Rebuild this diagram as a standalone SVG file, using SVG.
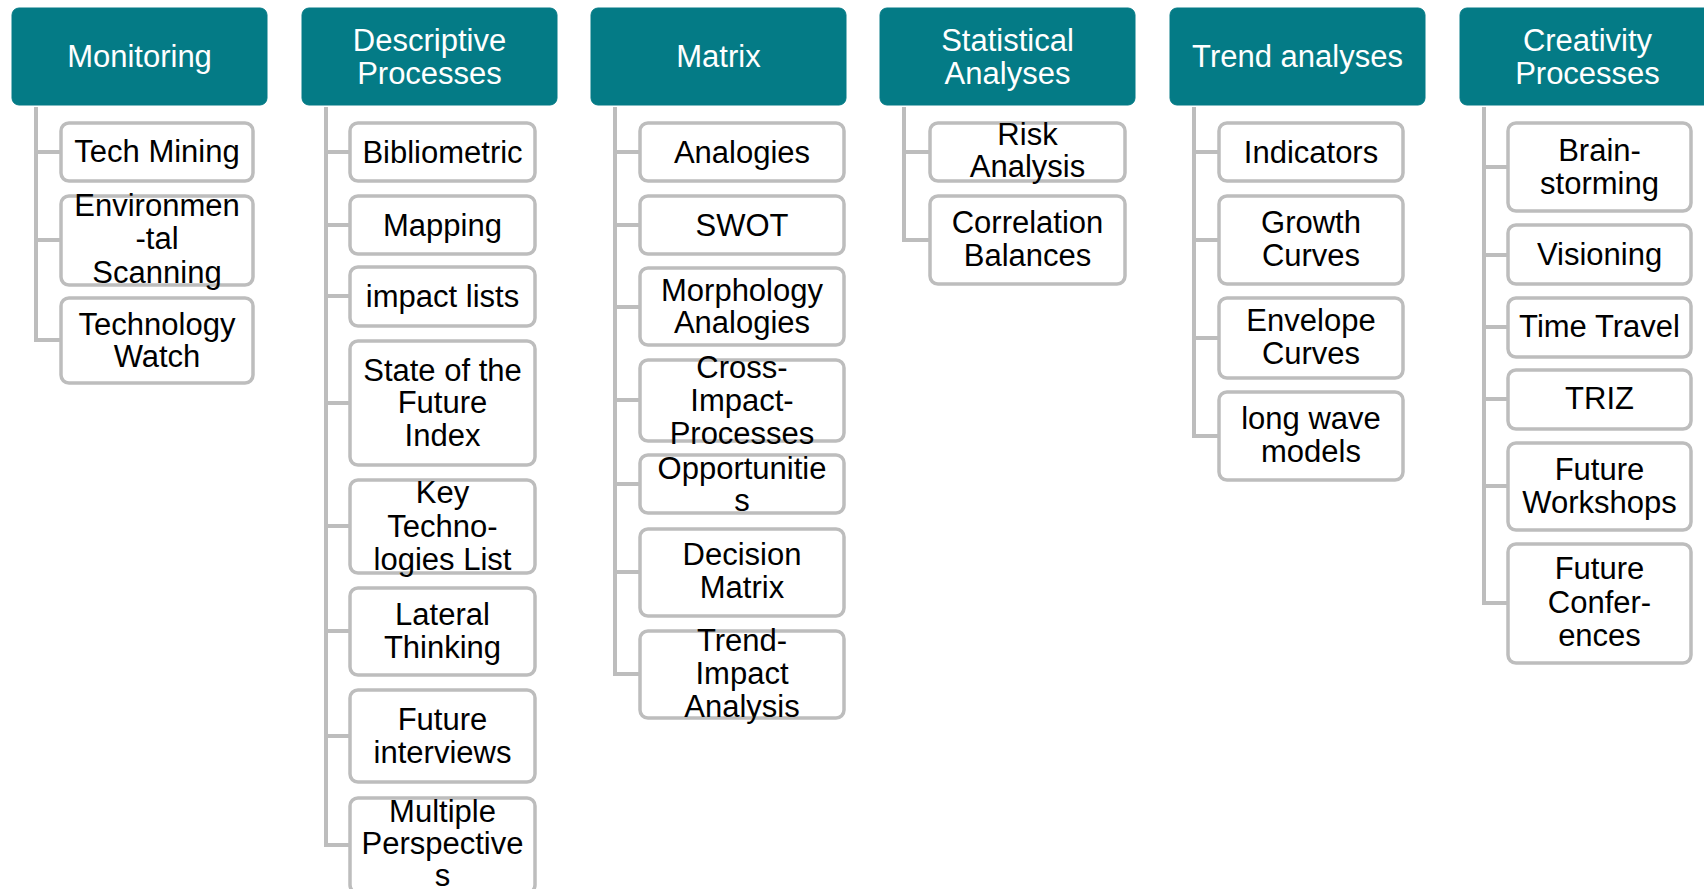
<svg xmlns="http://www.w3.org/2000/svg" width="1704" height="889" viewBox="0 0 1704 889">
<style>
.hdr rect{fill:#047B86;stroke:#047B86;stroke-width:1}
.hdr text{fill:#fff}
text{font-family:"Liberation Sans",Arial,sans-serif;font-size:31px;text-anchor:middle}
.box rect{fill:#fff;stroke:#BDBDBD;stroke-width:3.5}
.box text{fill:#000}
.conn path{fill:none;stroke:#BDBDBD;stroke-width:4;stroke-linejoin:miter}
</style>
<rect width="1704" height="889" fill="#fff"/>
<g id="connectors" class="conn">
<path d="M36,107 V340 H61 M36,152 H61 M36,240 H61"/>
<path d="M326,107 V845 H350 M326,152 H350 M326,225 H350 M326,296 H350 M326,403 H350 M326,526 H350 M326,631 H350 M326,736 H350"/>
<path d="M615,107 V674 H640 M615,152 H640 M615,225 H640 M615,307 H640 M615,400 H640 M615,484 H640 M615,572 H640"/>
<path d="M904,107 V240 H930 M904,152 H930"/>
<path d="M1194,107 V436 H1219 M1194,152 H1219 M1194,240 H1219 M1194,338 H1219"/>
<path d="M1484,107 V603 H1508 M1484,167 H1508 M1484,255 H1508 M1484,327 H1508 M1484,399 H1508 M1484,486 H1508"/>
</g>
<g id="h-monitoring" class="hdr"><rect x="12" y="8" width="255" height="97" rx="7"/><text x="139.5" y="67">Monitoring</text></g>
<g id="h-descriptive" class="hdr"><rect x="302" y="8" width="255" height="97" rx="7"/><text x="429.5" y="51">Descriptive</text><text x="429.5" y="84">Processes</text></g>
<g id="h-matrix" class="hdr"><rect x="591" y="8" width="255" height="97" rx="7"/><text x="718.5" y="67">Matrix</text></g>
<g id="h-statistical" class="hdr"><rect x="880" y="8" width="255" height="97" rx="7"/><text x="1007.5" y="51">Statistical</text><text x="1007.5" y="84">Analyses</text></g>
<g id="h-trend" class="hdr"><rect x="1170" y="8" width="255" height="97" rx="7"/><text x="1297.5" y="67">Trend analyses</text></g>
<g id="h-creativity" class="hdr"><rect x="1460" y="8" width="255" height="97" rx="7"/><text x="1587.5" y="51">Creativity</text><text x="1587.5" y="84">Processes</text></g>

<g id="n-techmining" class="box"><rect x="61" y="123" width="192" height="58" rx="8"/><text x="157" y="162">Tech Mining</text></g>
<g id="n-envscan" class="box"><rect x="61" y="196" width="192" height="89" rx="8"/><text x="157" y="216">Environmen</text><text x="157" y="249">-tal</text><text x="157" y="283">Scanning</text></g>
<g id="n-techwatch" class="box"><rect x="61" y="298" width="192" height="85" rx="8"/><text x="157" y="335">Technology</text><text x="157" y="367">Watch</text></g>

<g id="n-biblio" class="box"><rect x="350" y="123" width="185" height="58" rx="8"/><text x="442.5" y="163">Bibliometric</text></g>
<g id="n-mapping" class="box"><rect x="350" y="196" width="185" height="58" rx="8"/><text x="442.5" y="236">Mapping</text></g>
<g id="n-impactlists" class="box"><rect x="350" y="267" width="185" height="59" rx="8"/><text x="442.5" y="307">impact lists</text></g>
<g id="n-sofi" class="box"><rect x="350" y="341" width="185" height="124" rx="8"/><text x="442.5" y="381">State of the</text><text x="442.5" y="413">Future</text><text x="442.5" y="446">Index</text></g>
<g id="n-keytech" class="box"><rect x="350" y="480" width="185" height="93" rx="8"/><text x="442.5" y="503">Key</text><text x="442.5" y="537">Techno-</text><text x="442.5" y="570">logies List</text></g>
<g id="n-lateral" class="box"><rect x="350" y="588" width="185" height="87" rx="8"/><text x="442.5" y="625">Lateral</text><text x="442.5" y="658">Thinking</text></g>
<g id="n-futint" class="box"><rect x="350" y="690" width="185" height="92" rx="8"/><text x="442.5" y="730">Future</text><text x="442.5" y="763">interviews</text></g>
<g id="n-multiple" class="box"><rect x="350" y="798" width="185" height="95" rx="8"/><text x="442.5" y="822">Multiple</text><text x="442.5" y="854">Perspective</text><text x="442.5" y="886">s</text></g>

<g id="n-analogies" class="box"><rect x="640" y="123" width="204" height="58" rx="8"/><text x="742" y="163">Analogies</text></g>
<g id="n-swot" class="box"><rect x="640" y="196" width="204" height="58" rx="8"/><text x="742" y="236">SWOT</text></g>
<g id="n-morph" class="box"><rect x="640" y="268" width="204" height="77" rx="8"/><text x="742" y="301">Morphology</text><text x="742" y="333">Analogies</text></g>
<g id="n-crossimpact" class="box"><rect x="640" y="360" width="204" height="81" rx="8"/><text x="742" y="378">Cross-</text><text x="742" y="411">Impact-</text><text x="742" y="444">Processes</text></g>
<g id="n-opport" class="box"><rect x="640" y="455" width="204" height="58" rx="8"/><text x="742" y="479">Opportunitie</text><text x="742" y="511">s</text></g>
<g id="n-decision" class="box"><rect x="640" y="529" width="204" height="87" rx="8"/><text x="742" y="565">Decision</text><text x="742" y="598">Matrix</text></g>
<g id="n-trendimpact" class="box"><rect x="640" y="631" width="204" height="87" rx="8"/><text x="742" y="651">Trend-</text><text x="742" y="684">Impact</text><text x="742" y="717">Analysis</text></g>

<g id="n-risk" class="box"><rect x="930" y="123" width="195" height="58" rx="8"/><text x="1027.5" y="145">Risk</text><text x="1027.5" y="177">Analysis</text></g>
<g id="n-correl" class="box"><rect x="930" y="196" width="195" height="88" rx="8"/><text x="1027.5" y="233">Correlation</text><text x="1027.5" y="266">Balances</text></g>

<g id="n-indicators" class="box"><rect x="1219" y="123" width="184" height="58" rx="8"/><text x="1311" y="163">Indicators</text></g>
<g id="n-growth" class="box"><rect x="1219" y="196" width="184" height="88" rx="8"/><text x="1311" y="233">Growth</text><text x="1311" y="266">Curves</text></g>
<g id="n-envelope" class="box"><rect x="1219" y="298" width="184" height="80" rx="8"/><text x="1311" y="331">Envelope</text><text x="1311" y="364">Curves</text></g>
<g id="n-longwave" class="box"><rect x="1219" y="392" width="184" height="88" rx="8"/><text x="1311" y="429">long wave</text><text x="1311" y="462">models</text></g>

<g id="n-brain" class="box"><rect x="1508" y="123" width="183" height="88" rx="8"/><text x="1599.5" y="161">Brain-</text><text x="1599.5" y="194">storming</text></g>
<g id="n-vision" class="box"><rect x="1508" y="225" width="183" height="59" rx="8"/><text x="1599.5" y="265">Visioning</text></g>
<g id="n-timetravel" class="box"><rect x="1508" y="298" width="183" height="59" rx="8"/><text x="1599.5" y="337">Time Travel</text></g>
<g id="n-triz" class="box"><rect x="1508" y="370" width="183" height="59" rx="8"/><text x="1599.5" y="409">TRIZ</text></g>
<g id="n-futws" class="box"><rect x="1508" y="443" width="183" height="87" rx="8"/><text x="1599.5" y="480">Future</text><text x="1599.5" y="513">Workshops</text></g>
<g id="n-futconf" class="box"><rect x="1508" y="544" width="183" height="119" rx="8"/><text x="1599.5" y="579">Future</text><text x="1599.5" y="613">Confer-</text><text x="1599.5" y="646">ences</text></g>
</svg>
